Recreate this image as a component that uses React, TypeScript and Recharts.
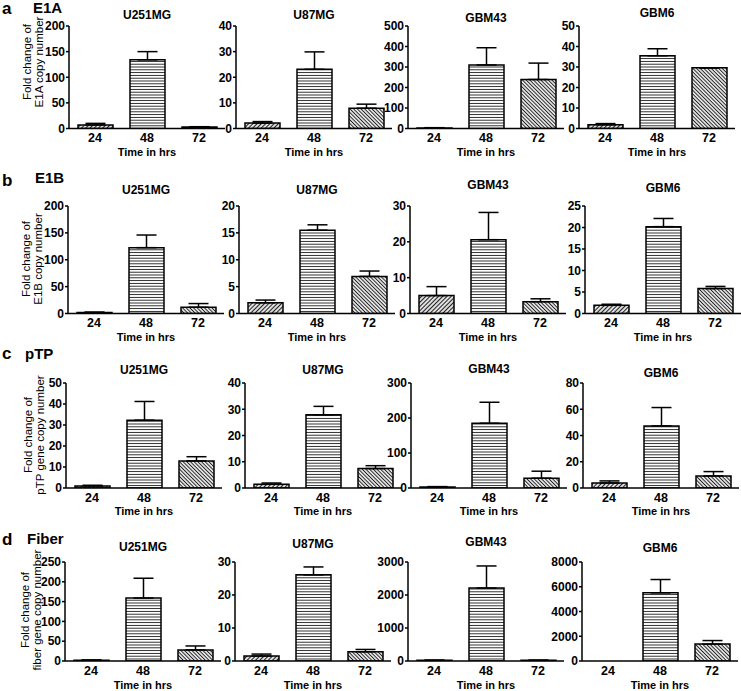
import React from 'react';
import { BarChart, Bar, XAxis, YAxis, ErrorBar, Cell } from 'recharts';

const FONT = '"Liberation Sans", Arial, Helvetica, sans-serif';

// ---- data ----
const CELL_LINES = ['U251MG', 'U87MG', 'GBM43', 'GBM6'];
const TIMES = ['24', '48', '72'];
const ROW_LETTERS = ['a', 'b', 'c', 'd'];
const GENES = ['E1A', 'E1B', 'pTP', 'Fiber'];
const Y_LABEL_LINE1 = ['Fold change of', 'Fold change of', 'Fold change of', 'Fold change of'];
const Y_LABEL_LINE2 = ['E1A copy number', 'E1B copy number', 'pTP gene copy number', 'fiber gene copy number'];

// means per cell line (U251MG, U87MG, GBM43, GBM6), each [24h, 48h, 72h]
const E1A_MEAN = [[7, 134, 3], [2.1, 23.1, 7.9], [3, 310, 239], [1.8, 35.5, 29.6]];
const E1A_ERR = [[3, 16, 0.5], [0.6, 6.8, 1.6], [1, 84, 80], [0.6, 3.4, 0]];
const E1B_MEAN = [[2, 122.5, 11.7], [2.0, 15.5, 6.9], [5.0, 20.6, 3.3], [1.9, 20.2, 5.8]];
const E1B_ERR = [[0.5, 23.5, 6.8], [0.5, 1.0, 1.0], [2.5, 7.6, 0.8], [0.25, 1.9, 0.5]];
const PTP_MEAN = [[1.0, 32.3, 12.9], [1.4, 27.9, 7.4], [3, 185, 28], [3.8, 47.3, 9.2]];
const PTP_ERR = [[0.3, 8.9, 2.0], [0.5, 3.2, 1.1], [1, 60, 20], [1.6, 14, 3.3]];
const FIBER_MEAN = [[2, 159, 28], [1.5, 26.1, 2.8], [20, 2210, 20], [0, 5508, 1364]];
const FIBER_ERR = [[0.5, 50, 10], [0.6, 2.4, 0.7], [5, 670, 5], [0, 1076, 288]];

const E1A_TICKS = [[0, 50, 100, 150, 200], [0, 10, 20, 30, 40], [0, 100, 200, 300, 400, 500], [0, 10, 20, 30, 40, 50]];
const E1B_TICKS = [[0, 50, 100, 150, 200], [0, 5, 10, 15, 20], [0, 10, 20, 30], [0, 5, 10, 15, 20, 25]];
const PTP_TICKS = [[0, 10, 20, 30, 40, 50], [0, 10, 20, 30, 40], [0, 100, 200, 300], [0, 20, 40, 60, 80]];
const FIBER_TICKS = [[0, 50, 100, 150, 200, 250], [0, 10, 20, 30], [0, 1000, 2000, 3000], [0, 2000, 4000, 6000, 8000]];

const MEANS = [E1A_MEAN, E1B_MEAN, PTP_MEAN, FIBER_MEAN];
const ERRS = [E1A_ERR, E1B_ERR, PTP_ERR, FIBER_ERR];
const TICKS = [E1A_TICKS, E1B_TICKS, PTP_TICKS, FIBER_TICKS];

// ---- layout ----
const ROW_TOP = [25.5, 205.5, 383, 562];
const ROW_ZERO = [128, 313, 488, 661];
const TIME_Y = [152, 337, 511, 684.5];
const PANEL_X = [
  [69, 236, 408, 579],
  [68, 239, 410, 585],
  [66, 245, 411, 583],
  [65, 235, 408, 582],
];
const TITLE_Y = [
  [15, 15, 18, 13],
  [190, 190, 185, 188],
  [370, 370, 369, 373],
  [547, 544, 542, 548],
];
const LETTER_Y = [8, 180, 353, 539];
const GENE_X = [33, 35, 25, 27];
const GENE_Y = [7, 177, 353, 538];
const YLAB_X1 = [26.5, 26, 27.5, 25];
const YLAB_X2 = [38.5, 38, 40, 37];
const YLAB_Y = [62, 259, 435, 610];

const PATTERN_IDS = ['pat24', 'pat48', 'pat72'];
const PLOT_W = 156;
const ML = 45;
const MT = 8;
const MR = 2;
const XH = 30;

function Panel({ axisX, yTop, yZero, means, errs, ticks }: any) {
  const data = TIMES.map((t, i) => ({ t, v: means[i], e: [0, errs[i]] }));
  const w = ML + PLOT_W + MR;
  const h = MT + (yZero - yTop) + XH;
  const tickStyle = { fill: '#000', fontSize: 12, fontWeight: 700, fontFamily: FONT };
  return (
    <div style={{ position: 'absolute', left: axisX - ML, top: yTop - MT, width: w, height: h }}>
      <BarChart width={w} height={h} data={data} margin={{ top: MT, right: MR, bottom: 0, left: 0 }} barCategoryGap={0}>
        <XAxis
          dataKey="t"
          axisLine={{ stroke: '#000', strokeWidth: 1.5 }}
          tickLine={false}
          tickSize={3}
          tickMargin={2}
          interval={0}
          height={XH}
          tick={{ ...tickStyle, fontSize: 12.5 }}
        />
        <YAxis
          width={ML}
          domain={[0, ticks[ticks.length - 1]]}
          ticks={ticks}
          interval={0}
          allowDataOverflow
          axisLine={{ stroke: '#000', strokeWidth: 1.5 }}
          tickLine={{ stroke: '#000', strokeWidth: 1.5 }}
          tickSize={3}
          tickMargin={1}
          tick={tickStyle}
        />
        <Bar dataKey="v" barSize={35} stroke="#000" strokeWidth={1.5} isAnimationActive={false}>
          {data.map((d, i) => (
            <Cell key={i} fill={`url(#${PATTERN_IDS[i]})`} />
          ))}
          <ErrorBar dataKey="e" direction="y" width={10} stroke="#000" strokeWidth={1.5} isAnimationActive={false} />
        </Bar>
      </BarChart>
    </div>
  );
}

export default function App() {
  return (
    <div style={{ position: 'absolute', left: 0, top: 0, width: 741, height: 691, background: '#fff', overflow: 'hidden' }}>
      <svg width={0} height={0} style={{ position: 'absolute' }}>
        <defs>
          <pattern id="pat24" patternUnits="userSpaceOnUse" width={3} height={3} patternTransform="rotate(45)">
            <rect x={0} y={0} width={3} height={3} fill="#fff" />
            <line x1={1.5} y1={0} x2={1.5} y2={3} stroke="#222" strokeWidth={1.3} />
          </pattern>
          <pattern id="pat48" patternUnits="userSpaceOnUse" width={4} height={2.8}>
            <rect x={0} y={0} width={4} height={2.8} fill="#fff" />
            <line x1={0} y1={1.4} x2={4} y2={1.4} stroke="#111" strokeWidth={0.9} />
          </pattern>
          <pattern id="pat72" patternUnits="userSpaceOnUse" width={2.6} height={2.6} patternTransform="rotate(-45)">
            <rect x={0} y={0} width={2.6} height={2.6} fill="#fff" />
            <line x1={1.3} y1={0} x2={1.3} y2={2.6} stroke="#222" strokeWidth={1.1} />
          </pattern>
        </defs>
      </svg>
      {GENES.map((g, r) =>
        CELL_LINES.map((c, p) => (
          <Panel
            key={`${r}-${p}`}
            axisX={PANEL_X[r][p]}
            yTop={ROW_TOP[r]}
            yZero={ROW_ZERO[r]}
            means={MEANS[r][p]}
            errs={ERRS[r][p]}
            ticks={TICKS[r][p]}
          />
        ))
      )}
      <svg width={741} height={691} style={{ position: 'absolute', left: 0, top: 0, pointerEvents: 'none' }} fontFamily={FONT}>
        {GENES.map((g, r) => (
          <g key={g}>
            <text x={2} y={LETTER_Y[r]} fontSize={17} fontWeight={700} dominantBaseline="central">{ROW_LETTERS[r]}</text>
            <text x={GENE_X[r]} y={GENE_Y[r]} fontSize={15} fontWeight={700} dominantBaseline="central">{g}</text>
            <text
              x={YLAB_X1[r]}
              y={YLAB_Y[r]}
              fontSize={11.5}
              textAnchor="middle"
              dominantBaseline="central"
              transform={`rotate(-90 ${YLAB_X1[r]} ${YLAB_Y[r]})`}
            >
              {Y_LABEL_LINE1[r]}
            </text>
            <text
              x={YLAB_X2[r]}
              y={YLAB_Y[r]}
              fontSize={11.5}
              textAnchor="middle"
              dominantBaseline="central"
              transform={`rotate(-90 ${YLAB_X2[r]} ${YLAB_Y[r]})`}
            >
              {Y_LABEL_LINE2[r]}
            </text>
            {CELL_LINES.map((c, p) => (
              <g key={c}>
                <text x={PANEL_X[r][p] + 78} y={TITLE_Y[r][p]} fontSize={12} fontWeight={700} textAnchor="middle" dominantBaseline="central">
                  {c}
                </text>
                <text x={PANEL_X[r][p] + 78} y={TIME_Y[r]} fontSize={11} fontWeight={700} textAnchor="middle" dominantBaseline="central">
                  Time in hrs
                </text>
              </g>
            ))}
          </g>
        ))}
      </svg>
    </div>
  );
}
